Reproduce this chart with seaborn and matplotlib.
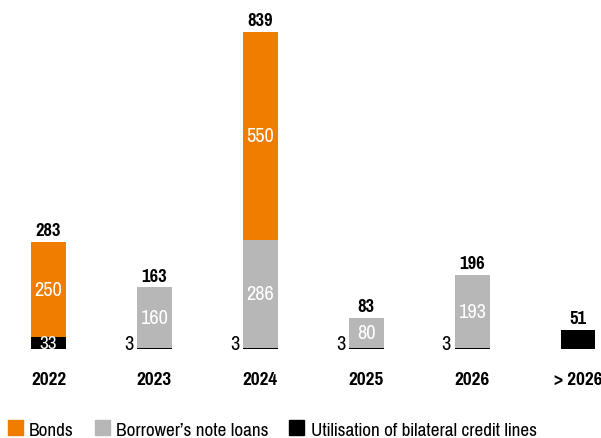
import matplotlib
matplotlib.use("Agg")
import matplotlib.pyplot as plt
import seaborn as sns
import pandas as pd
from matplotlib import font_manager
from matplotlib.patches import Patch

# ===== DATA =====
YEARS = ["2022", "2023", "2024", "2025", "2026", ">\u20092026"]
CREDIT_LINES = [33, 3, 3, 3, 3, 51]
NOTE_LOANS = [0, 160, 286, 80, 193, 0]
BONDS = [250, 0, 550, 0, 0, 0]
TOTALS = [283, 163, 839, 83, 196, 51]

ORANGE = "#EF7D00"
GREY = "#B7B7B7"
BLACK = "#000000"

# ===== FONT (Arial Narrow look-alike, first one installed) =====
installed = {f.name for f in font_manager.fontManager.ttflist}
FONT = "DejaVu Sans"
for cand in ["Liberation Sans Narrow", "Pragati Narrow", "Arimo Narrow",
             "PT Sans Narrow", "Roboto Condensed", "Archivo Narrow"]:
    if cand in installed:
        FONT = cand
        break

sns.set_style("white")
plt.rcParams["font.family"] = [FONT, "DejaVu Sans"]
plt.rcParams["text.color"] = "black"
plt.rcParams["xtick.color"] = "black"

df = pd.DataFrame({"year": YEARS, "credit": CREDIT_LINES,
                   "notes": NOTE_LOANS, "bonds": BONDS, "total": TOTALS})
df["notes_top"] = df["credit"] + df["notes"]
df["bonds_top"] = df["notes_top"] + df["bonds"]

fig = plt.figure(figsize=(6.01, 4.39), dpi=100)
ax = fig.add_axes([0, 89 / 439, 1, 350 / 439])

# stacked by overlaying cumulative heights
for col, colour in [("bonds_top", ORANGE), ("notes_top", GREY), ("credit", BLACK)]:
    sns.barplot(data=df, x="year", y=col, color=colour, width=0.33,
                saturation=1, linewidth=0, ax=ax)

ax.set_xlim(-0.458, 5.217)
ax.set_ylim(0, 926)
sns.despine(ax=ax, left=True, bottom=True)
ax.set_yticks([])
ax.set_xlabel("")
ax.set_ylabel("")
ax.set_xticks(range(len(YEARS)))
ax.set_xticklabels(YEARS, fontsize=15, fontweight="bold")
ax.tick_params(axis="x", length=0, pad=16)

for i, row in df.iterrows():
    ax.text(i, row["total"] + 10, str(row["total"]), ha="center", va="bottom",
            fontsize=14.5, fontweight="bold")
    if row["bonds"] > 0:
        ax.text(i, row["notes_top"] + row["bonds"] / 2, str(row["bonds"]),
                ha="center", va="center", color="white", fontsize=16)
    if row["notes"] > 0:
        ax.text(i, row["credit"] + row["notes"] / 2, str(row["notes"]),
                ha="center", va="center", color="white", fontsize=16)
    if row["credit"] < 10:
        ax.text(i - 0.2, 0, str(row["credit"]), ha="right", va="baseline",
                fontsize=16)
    elif row["notes"] + row["bonds"] > 0:
        ax.text(i, row["credit"] / 2, str(row["credit"]), ha="center",
                va="center", color="white", fontsize=15)

handles = [Patch(color=ORANGE, label="Bonds"),
           Patch(color=GREY, label="Borrower\u2019s note loans"),
           Patch(color=BLACK, label="Utilisation of bilateral credit lines")]
fig.legend(handles=handles, loc="center left",
           bbox_to_anchor=(8 / 601, 1 - 430 / 439),
           ncol=3, frameon=False, fontsize=15, handlelength=0.72,
           handleheight=0.7, handletextpad=0.3, columnspacing=1.0,
           borderpad=0, borderaxespad=0)

fig.savefig("out.png", dpi=100)
